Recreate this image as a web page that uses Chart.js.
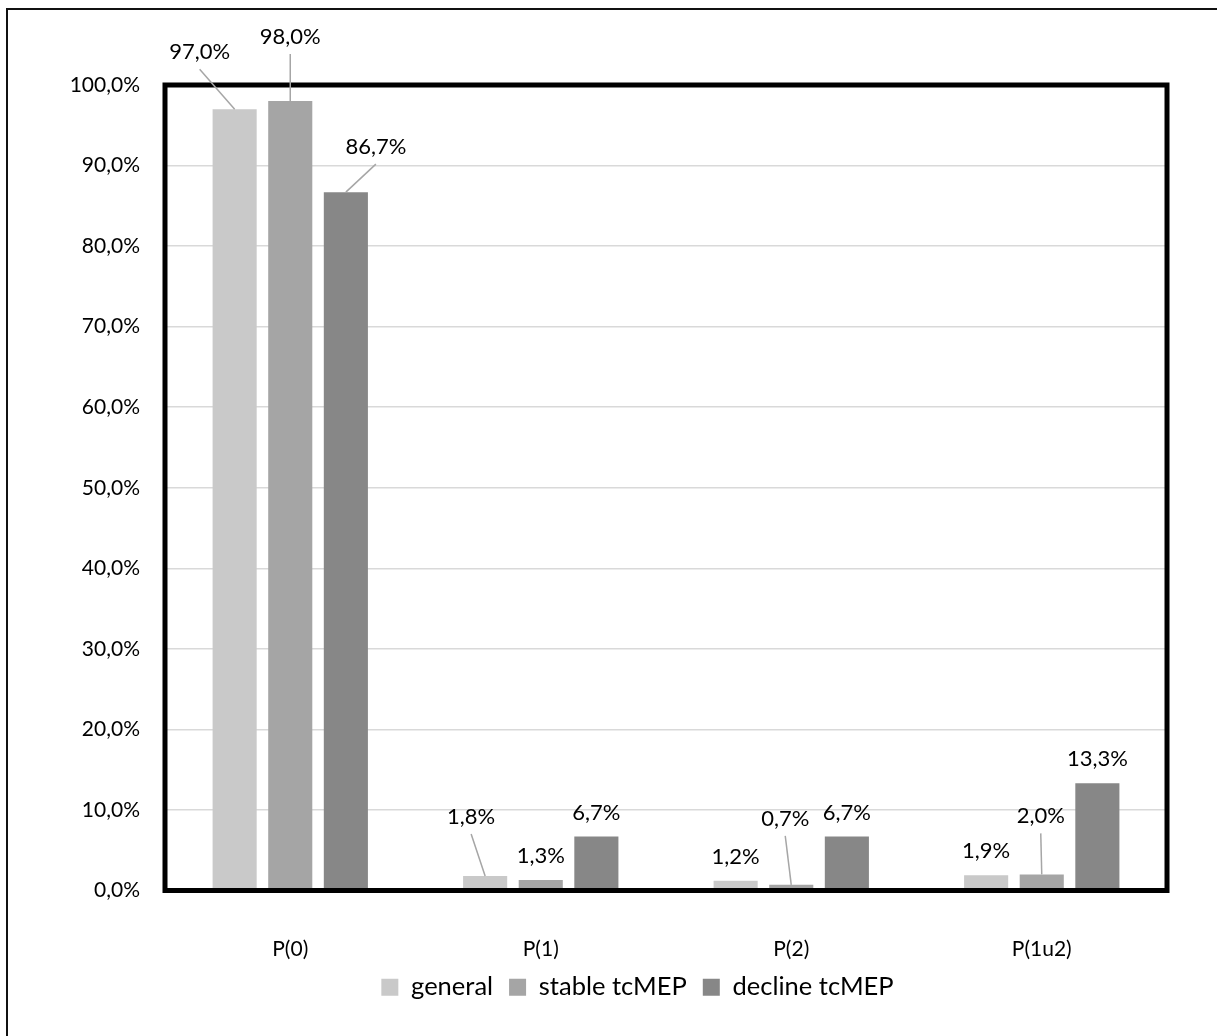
<!DOCTYPE html>
<html>
<head>
<meta charset="utf-8">
<script src="https://cdn.jsdelivr.net/npm/chart.js@4.4.1/dist/chart.umd.min.js"></script>
<style>
  html, body { margin: 0; padding: 0; background: #fff; }
  #wrap { width: 1217px; height: 1036px; position: relative; }
</style>
</head>
<body>
<div id="wrap"><canvas id="pChart"></canvas></div>
<script>
// Datos
const categories = ['P(0)', 'P(1)', 'P(2)', 'P(1u2)'];
const seriesNames = ['general', 'stable tcMEP', 'decline tcMEP'];
const generalValues = [97.0, 1.8, 1.2, 1.9];
const stableValues = [98.0, 1.3, 0.7, 2.0];
const declineValues = [86.7, 6.7, 6.7, 13.3];
const yTicks = [0, 10, 20, 30, 40, 50, 60, 70, 80, 90, 100];

const seriesColors = ['#c9c9c9', '#a5a5a5', '#878787'];
const FONT = 'Lato, "Liberation Sans", sans-serif';

// Desplazamiento de etiquetas con línea guía: [dataset][índice] = [dx, dy] desde la punta de la barra
const labelOffsets = [
    [[-35, -57], [-14, -59], null, null],
    [[0, -64], null, [-6, -66], [-1, -58]],
    [[30, -45], null, null, null]
];

function fmt(v) {
    return v.toFixed(1).replace('.', ',') + '%';
}

// Borde exterior (solo arriba e izquierda) y marco grueso del área de trazado
const framePlugin = {
    id: 'frame',
    afterLayout(chart) {
        // la leyenda del original no está centrada en el lienzo
        const lg = chart.legend;
        if (lg) {
            lg.left += 54;
            lg.right += 54;
            lg.top -= 12;
            lg.bottom -= 12;
        }
    },
    beforeDraw(chart) {
        const ctx = chart.ctx;
        ctx.save();
        ctx.fillStyle = '#fff';
        ctx.fillRect(0, 0, chart.width, chart.height);
        ctx.strokeStyle = '#111';
        ctx.lineWidth = 2;
        ctx.beginPath();
        ctx.moveTo(7, chart.height);
        ctx.lineTo(7, 9);
        ctx.lineTo(chart.width, 9);
        ctx.stroke();
        ctx.restore();
    },
    afterDatasetsDraw(chart) {
        const a = chart.chartArea;
        const ctx = chart.ctx;
        ctx.save();
        ctx.strokeStyle = '#000';
        ctx.lineWidth = 5;
        ctx.strokeRect(a.left, a.top, a.right - a.left, a.bottom - a.top);
        ctx.restore();
    }
};

// Etiquetas de datos con líneas guía
const labelPlugin = {
    id: 'barLabels',
    afterDraw(chart) {
        const ctx = chart.ctx;
        ctx.save();
        ctx.font = '22px ' + FONT;
        ctx.textAlign = 'center';
        ctx.textBaseline = 'middle';
        chart.data.datasets.forEach((ds, di) => {
            const meta = chart.getDatasetMeta(di);
            meta.data.forEach((bar, i) => {
                const off = labelOffsets[di][i];
                let lx = bar.x, ly = bar.y - 24;
                if (off) {
                    lx = bar.x + off[0];
                    ly = bar.y + off[1];
                    ctx.strokeStyle = '#a6a6a6';
                    ctx.lineWidth = 1.5;
                    ctx.beginPath();
                    ctx.moveTo(lx, ly + 17);
                    ctx.lineTo(bar.x, bar.y);
                    ctx.stroke();
                }
                ctx.fillStyle = '#000';
                ctx.fillText(fmt(ds.data[i]), lx, ly);
            });
        });
        ctx.restore();
    }
};

const ctx = document.getElementById('pChart').getContext('2d');
new Chart(ctx, {
    type: 'bar',
    data: {
        labels: categories,
        datasets: [generalValues, stableValues, declineValues].map((vals, k) => ({
            label: seriesNames[k],
            data: vals,
            backgroundColor: seriesColors[k],
            borderWidth: 0,
            categoryPercentage: 0.666,
            barPercentage: 0.793
        }))
    },
    options: {
        responsive: true,
        maintainAspectRatio: false,
        animation: false,
        events: [],
        layout: {
            padding: { top: 85, left: 0, right: 50, bottom: 14 }
        },
        plugins: {
            tooltip: { enabled: false },
            legend: {
                position: 'bottom',
                labels: {
                    color: '#000',
                    font: { family: FONT, size: 25.5 },
                    boxWidth: 17,
                    boxHeight: 17,
                    padding: 16
                }
            }
        },
        scales: {
            x: {
                grid: { display: false, drawTicks: false },
                border: { display: false },
                ticks: {
                    color: '#000',
                    font: { family: FONT, size: 21 },
                    padding: 46
                },
                afterFit(scale) { scale.height = 80; }
            },
            y: {
                min: 0,
                max: 100,
                afterBuildTicks(scale) {
                    scale.ticks = yTicks.map(v => ({ value: v }));
                },
                grid: { color: '#d9d9d9', lineWidth: 1.5, drawTicks: false },
                border: { display: false },
                ticks: {
                    color: '#000',
                    font: { family: FONT, size: 21 },
                    padding: 25,
                    callback: v => fmt(v)
                },
                afterFit(scale) { scale.width = 165; }
            }
        }
    },
    plugins: [framePlugin, labelPlugin]
});
</script>
</body>
</html>
